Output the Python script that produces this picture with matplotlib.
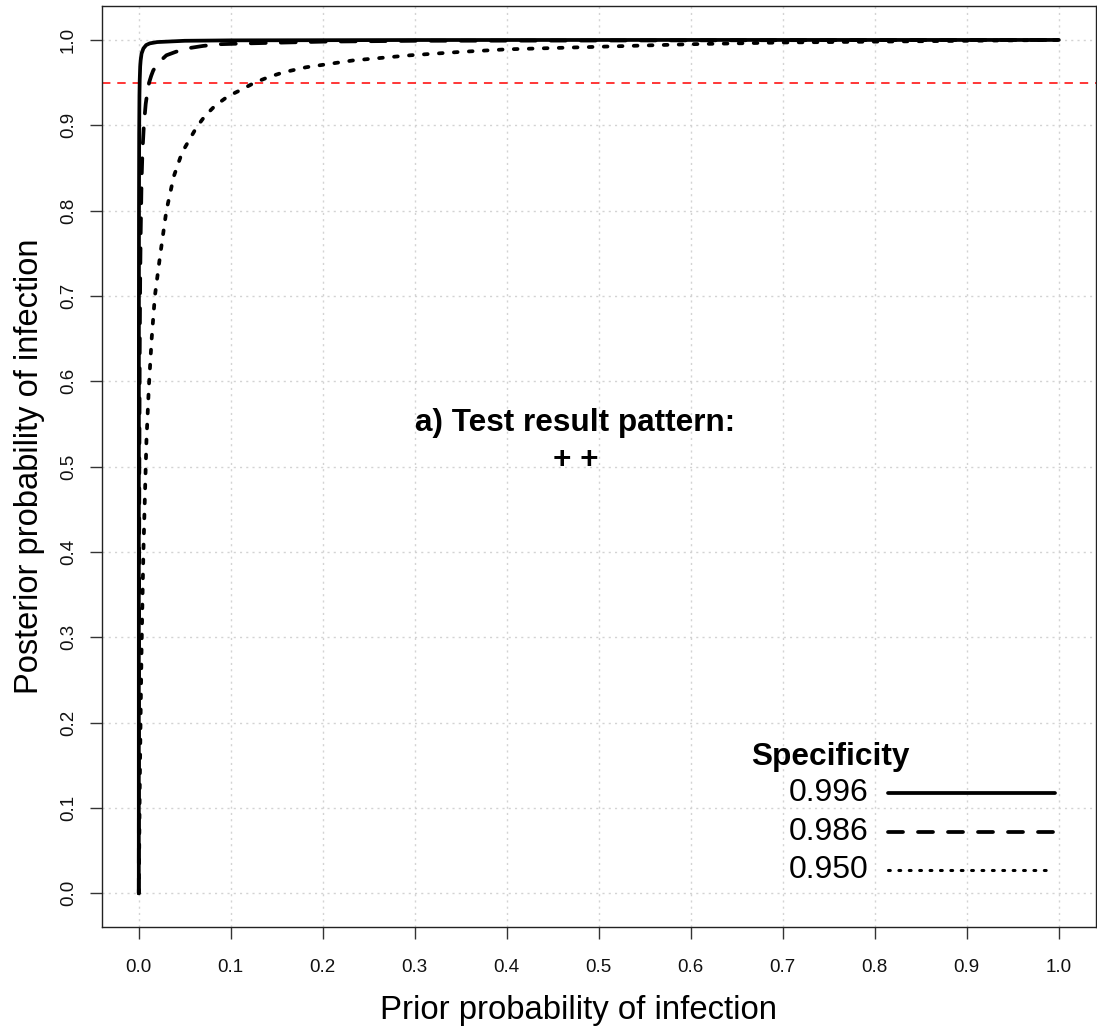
import matplotlib
matplotlib.use("Agg")
import matplotlib.pyplot as plt
import numpy as np

plt.rcParams['font.family'] = ['Liberation Sans', 'DejaVu Sans']

# Prior probability (x) and posterior probability (y)
prior_996 = [0, 0.00005, 0.0001, 0.0002, 0.0004, 0.0007, 0.001, 0.0015, 0.002,
             0.003, 0.005, 0.008, 0.012, 0.02, 0.05, 0.1, 0.3, 0.6, 1.0]
post_996 = [0, 0.50, 0.67, 0.80, 0.89, 0.935, 0.953, 0.969, 0.976,
            0.984, 0.990, 0.994, 0.996, 0.9975, 0.999, 0.9995, 0.9999, 1.0, 1.0]

prior_986 = [0, 0.0002, 0.0004, 0.0006, 0.001, 0.0015, 0.002, 0.003, 0.004,
             0.0055, 0.0075, 0.0095, 0.0112, 0.0135, 0.0156, 0.02, 0.025, 0.03,
             0.04, 0.052, 0.07, 0.088, 0.12, 0.2, 0.3, 0.5, 0.7, 1.0]
post_986 = [0, 0.25, 0.40, 0.50, 0.63, 0.72, 0.77, 0.835, 0.87,
            0.90, 0.925, 0.94, 0.95, 0.958, 0.964, 0.972, 0.977, 0.982,
            0.986, 0.99, 0.993, 0.995, 0.996, 0.998, 0.999, 0.9993, 0.9997, 1.0]

prior_950 = [0, 0.001, 0.002, 0.003, 0.004, 0.005, 0.0065, 0.0083, 0.011, 0.014,
             0.0175, 0.023, 0.030, 0.038, 0.047, 0.056, 0.063, 0.072, 0.083,
             0.097, 0.112, 0.126, 0.14, 0.157, 0.182, 0.233, 0.295, 0.35, 0.4,
             0.5, 0.6, 0.7, 0.8, 0.9, 1.0]
post_950 = [0, 0.12, 0.21, 0.285, 0.345, 0.40, 0.46, 0.53, 0.595, 0.65,
            0.70, 0.746, 0.80, 0.84, 0.868, 0.885, 0.898, 0.911, 0.923,
            0.934, 0.942, 0.95, 0.956, 0.962, 0.968, 0.976, 0.982, 0.986, 0.989,
            0.992, 0.995, 0.997, 0.998, 0.999, 1.0]

threshold = 0.95
ticks = [0.0, 0.1, 0.2, 0.3, 0.4, 0.5, 0.6, 0.7, 0.8, 0.9, 1.0]
tick_labels = ["0.0", "0.1", "0.2", "0.3", "0.4", "0.5", "0.6", "0.7", "0.8", "0.9", "1.0"]
legend_labels = ["0.996", "0.986", "0.950"]

fig = plt.figure(figsize=(10.97, 10.36), dpi=100)
ax = fig.add_axes([102 / 1097, 1 - 927.4 / 1036, 993.6 / 1097, 921.6 / 1036])
ax.set_xlim(-0.04, 1.04)
ax.set_ylim(-0.04, 1.04)

ax.set_xticks(ticks)
ax.set_xticklabels(tick_labels)
ax.set_yticks(ticks)
ax.set_yticklabels(tick_labels, rotation=90, va='center')
ax.tick_params(axis='both', labelsize=13.5, length=8.5, width=1.0, color='#333333',
               labelcolor='#111111')
ax.tick_params(axis='x', pad=14.5)
ax.tick_params(axis='y', pad=9.5)
for s in ax.spines.values():
    s.set_linewidth(1.0)
    s.set_color('#222222')

ax.grid(True, color='#d3d3d3', linestyle=(0, (1.5, 3)), linewidth=1.0)
ax.set_axisbelow(True)

ax.axhline(threshold, color='#ff0000', lw=1.1, linestyle=(0, (5.5, 4.5)), zorder=2)

lw = 2.7
l1, = ax.plot(prior_996, post_996, color='black', lw=lw, solid_capstyle='round',
              solid_joinstyle='round', zorder=5)
l2, = ax.plot(prior_986, post_986, color='black', lw=lw, linestyle=(0, (4, 4)),
              dash_capstyle='round', zorder=4)
l3, = ax.plot(prior_950, post_950, color='black', lw=lw, linestyle=(0, (1, 3)),
              dash_capstyle='round', zorder=3)

ax.text(0.474, 0.551, "a) Test result pattern:", ha='center', va='center',
        fontsize=22.7, fontweight='bold')
ax.text(0.475, 0.508, "+ +", ha='center', va='center', fontsize=22.7, fontweight='bold')

ax.set_xlabel("Prior probability of infection", fontsize=23.7)
ax.xaxis.set_label_coords(0.4796, -0.073, transform=ax.transAxes)
ax.xaxis.label.set_va('top')
ax.set_ylabel("Posterior probability of infection", fontsize=23.5, labelpad=11)

# custom legend (axes fraction coordinates)
tr = ax.transAxes
ax.text(0.653, 0.185, "Specificity", transform=tr, ha='left', va='center',
        fontsize=22.8, fontweight='bold')
ys = [0.1458, 0.103, 0.0623]
styles = [dict(linestyle='-', lw=lw, solid_capstyle='round'),
          dict(linestyle=(0, (4, 4)), lw=lw, dash_capstyle='round'),
          dict(linestyle=(0, (0.6, 2.8)), lw=2.2, dash_capstyle='round')]
ends = [0.959, 0.959, 0.952]
for y, lab, st, e in zip(ys, legend_labels, styles, ends):
    ax.plot([0.791, e], [y, y], transform=tr, color='black', **st)
    ax.text(0.771, y, lab, transform=tr, ha='right', va='center', fontsize=23)

fig.savefig("out.png", dpi=100)
